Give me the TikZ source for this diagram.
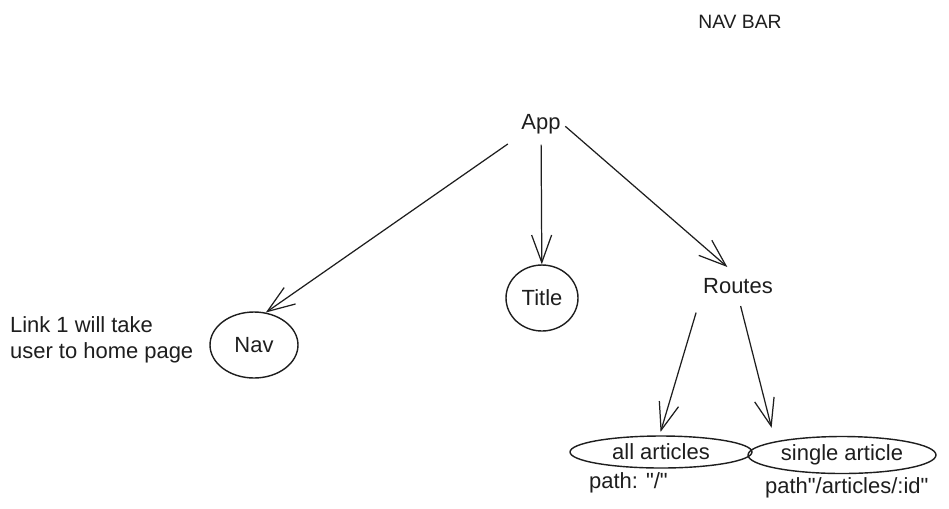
\documentclass[tikz,border=0pt]{standalone}
\usepackage{fontspec}
\setmainfont{Liberation Sans}
\usepackage{xcolor}
\usepackage{tikz}
\usetikzlibrary{arrows.meta,positioning,shapes.geometric}
\definecolor{ink}{HTML}{1E1E1E}
\definecolor{paper}{HTML}{FFFFFF}
\tikzset{
  lbl/.style    ={text=ink,inner sep=1pt,font=\fontsize{12.5}{15}\selectfont},
  note/.style   ={text=ink,inner sep=1pt,align=left,font=\fontsize{12.5}{15}\selectfont},
  head/.style   ={text=ink,inner sep=1pt,font=\fontsize{11}{13}\selectfont},
  bubble/.style ={ellipse,draw=ink,line width=0.8pt,inner sep=0pt,text=ink,
                  font=\fontsize{12.5}{15}\selectfont},
  link/.style   ={-{Straight Barb[length=5.5mm,width=4mm]},line width=0.7pt,draw=ink}
}
\begin{document}
\begin{tikzpicture}[x=0.02cm,y=-0.02cm]
  \useasboundingbox[fill=paper] (0,0) rectangle (949,508);
  \node[head] (navbar) at (740,22) {NAV BAR};
  \node[lbl] (app) at (541,124) {App};
  \node[bubble,minimum width=1.44cm,minimum height=1.32cm] (title) at (542,298) {Title};
  \node[bubble,minimum width=1.76cm,minimum height=1.32cm] (nav) at (254,345) {Nav};
  \node[lbl] (routes) at (738,286) {Routes};
  \node[note,anchor=west] (linknote) at (8,340) {Link 1 will take\\user to home page};
  \node[bubble,minimum width=3.64cm,minimum height=0.64cm] (allart) at (661,452) {all articles};
  \node[bubble,minimum width=3.76cm,minimum height=0.74cm] (oneart) at (842,455) {single article};
  \node[lbl,anchor=west] (allpath) at (587,483) {path: \textquotedbl/\textquotedbl};
  \node[lbl,anchor=west] (onepath) at (763,488) {path\textquotedbl/articles/:id\textquotedbl};
  \draw[link,shorten <=8pt] (app.south west) -- (nav.70);
  \draw[link,shorten <=5pt] (app) -- (title);
  \draw[link,shorten <=2pt,shorten >=8pt] (app.east) -- (routes.north);
  \draw[link,shorten <=10pt,shorten >=2pt] (routes.south west) -- (allart.95);
  \draw[link,shorten <=6pt,shorten >=8pt] (routes.south) -- (oneart.north west);
\end{tikzpicture}
\end{document}
